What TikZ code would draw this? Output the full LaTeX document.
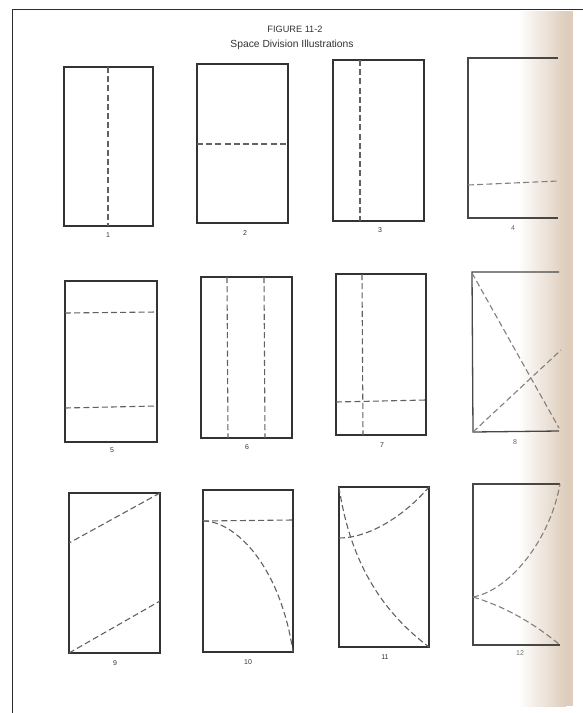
\documentclass[tikz,border=0pt]{standalone}
\usepackage{fontspec}
\setmainfont{Liberation Sans}
\definecolor{beige}{RGB}{222,205,188}
\definecolor{frame}{RGB}{45,45,45}
\begin{document}
\begin{tikzpicture}[x=1pt,y=-1pt,
  box/.style={draw=black!80,line width=1.3pt},
  openbox/.style={draw=black!72,line width=1.3pt},
  cut/.style={draw=black!62,line width=1.1pt,dash pattern=on 6pt off 3.2pt},
  fcut/.style={draw=black!50,line width=1.1pt,dash pattern=on 6pt off 3.2pt},
  num/.style={font=\fontsize{7}{8}\selectfont,text=black!80,inner sep=0pt}]
\useasboundingbox (0,0) rectangle (583,713);
\fill[white] (0,0) rectangle (583,713);
% page shading on the right
\shade[left color=white,right color=beige] (518,11) rectangle (566,706);
\fill[beige] (566,11) rectangle (573,706);
% frame
\draw[frame,line width=1.8pt] (583,9.5) -- (12.5,9.5) -- (12.5,713);
% title
\node[font=\fontsize{9.2}{10}\selectfont,text=black!80] (t1) at (295,29) {FIGURE 11-2};
\node[font=\fontsize{10.3}{11}\selectfont,text=black!80] (t2) at (292,45) {Space Division Illustrations};
% 1
\draw[box] (64,67) rectangle (153,226);
\draw[cut] (108,67) -- (108,226);
\node[num] (n1) at (108,235) {1};
% 2
\draw[box] (197,64) rectangle (288,223);
\draw[cut] (197,144) -- (288,144);
\node[num] (n2) at (245,233) {2};
% 3
\draw[box] (333,60) rectangle (424,221);
\draw[cut] (360,60) -- (360,221);
\node[num] (n3) at (380,230) {3};
% 4
\draw[openbox] (558,58) -- (468,58) -- (468,218) -- (558,218);
\draw[fcut] (468,185) -- (558,181);
\node[num,text=black!60] (n4) at (513,228) {4};
% 5
\draw[box] (65,281) rectangle (157,442);
\draw[cut] (65,313) -- (157,312);
\draw[cut] (65,408) -- (157,406);
\node[num] (n5) at (112,450) {5};
% 6
\draw[box] (201,277) rectangle (292,438);
\draw[cut] (227,277) -- (228,438);
\draw[cut] (264,277) -- (265,438);
\node[num] (n6) at (247,447) {6};
% 7
\draw[box] (336,274) rectangle (426,435);
\draw[cut] (362,274) -- (363,435);
\draw[cut] (336,402) -- (426,400);
\node[num] (n7) at (382,445) {7};
% 8
\draw[openbox] (559,272) -- (472,272) -- (473,432) -- (559,431);
\draw[fcut] (472,273) -- (559,428);
\draw[fcut] (473,432) -- (561,350);
\node[num,text=black!60] (n8) at (515,442) {8};
% 9
\draw[box] (69,493) rectangle (160,653);
\draw[cut] (160,493) -- (69,543);
\draw[cut] (69,653) -- (160,601);
\node[num] (n9) at (115,663) {9};
% 10
\draw[box] (203,490) rectangle (293,652);
\draw[cut] (203,521) -- (293,520);
\draw[cut] (203,521) .. controls (235,521) and (280,565) .. (293,652);
\node[num] (n10) at (248,662) {10};
% 11
\draw[box] (339,487) rectangle (429,647);
\draw[cut] (339,487) .. controls (350,560) and (380,610) .. (429,647);
\draw[cut] (339,538) .. controls (370,538) and (405,515) .. (429,487);
\node[num] (n11) at (385,657) {11};
% 12
\draw[openbox] (560,484) -- (473,484) -- (473,645) -- (560,645);
\draw[fcut] (473,597) .. controls (510,590) and (550,540) .. (560,484);
\draw[fcut] (473,597) .. controls (500,605) and (530,620) .. (560,645);
\node[num,text=black!55] (n12) at (520,653) {12};
\end{tikzpicture}
\end{document}
